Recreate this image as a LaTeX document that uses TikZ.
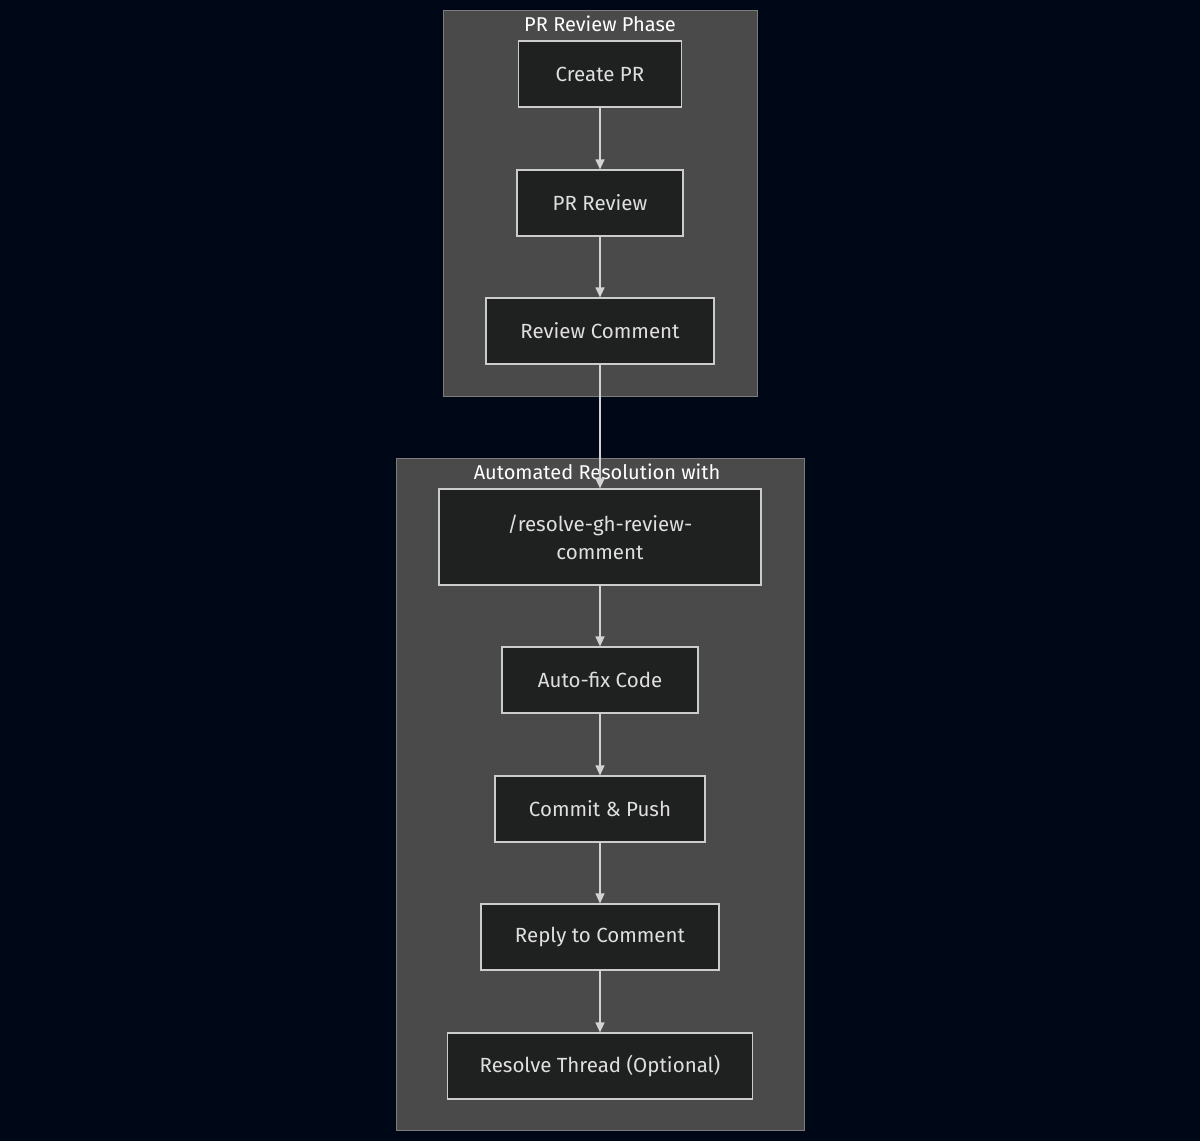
\documentclass[tikz,border=0pt]{standalone}
\usepackage{fontspec}
\setmainfont{Fira Sans}
\usetikzlibrary{arrows.meta}
\definecolor{bgc}{HTML}{000818}
\definecolor{clfill}{HTML}{4A4A4A}
\definecolor{cldraw}{HTML}{7C7C7C}
\definecolor{ndfill}{HTML}{1F2020}
\definecolor{nddraw}{HTML}{CCCCCC}
\definecolor{ndtext}{HTML}{E0DFDF}
\definecolor{arr}{HTML}{D3D3D3}
\tikzset{
  cluster/.style={draw=cldraw, fill=clfill, line width=1pt},
  stepbox/.style={draw=nddraw, fill=ndfill, line width=1.2pt, text=ndtext,
    font=\fontsize{20.5}{28}\selectfont, align=center, inner sep=0pt, minimum height=66pt},
  cltitle/.style={text=white, font=\fontsize{20}{23}\selectfont, inner sep=0pt},
  conn/.style={draw=arr, line width=1.2pt, -{Triangle[length=10pt,width=9pt]}}
}
\begin{document}
\begin{tikzpicture}[x=1pt,y=-1pt]
\fill[bgc] (0,0) rectangle (1200,1141);
\useasboundingbox (0,0) rectangle (1200,1141);
% clusters
\draw[cluster] (443,10) rectangle (757,396);
\node[cltitle] (t1) at (600,24) {PR Review Phase};
\draw[cluster] (396,458) rectangle (804,1130);
\node[cltitle] (t2) at (597,472) {Automated Resolution with};
% nodes
\node[stepbox, minimum width=163pt] (create) at (600,74) {Create PR};
\node[stepbox, minimum width=166pt] (review) at (600,203) {PR Review};
\node[stepbox, minimum width=228pt] (comment) at (600,331) {Review Comment};
\node[stepbox, minimum width=322pt, minimum height=96pt] (resolve) at (600,537) {/resolve-gh-review-\\comment};
\node[stepbox, minimum width=196pt] (autofix) at (600,680) {Auto-fix Code};
\node[stepbox, minimum width=210pt] (commit) at (600,809) {Commit \& Push};
\node[stepbox, minimum width=238pt] (reply) at (600,937) {Reply to Comment};
\node[stepbox, minimum width=305pt] (thread) at (600,1066) {Resolve Thread (Optional)};
% connectors
\draw[conn] (create) -- (review);
\draw[conn] (review) -- (comment);
\draw[conn] (comment) -- (resolve);
\draw[conn] (resolve) -- (autofix);
\draw[conn] (autofix) -- (commit);
\draw[conn] (commit) -- (reply);
\draw[conn] (reply) -- (thread);
\end{tikzpicture}
\end{document}
